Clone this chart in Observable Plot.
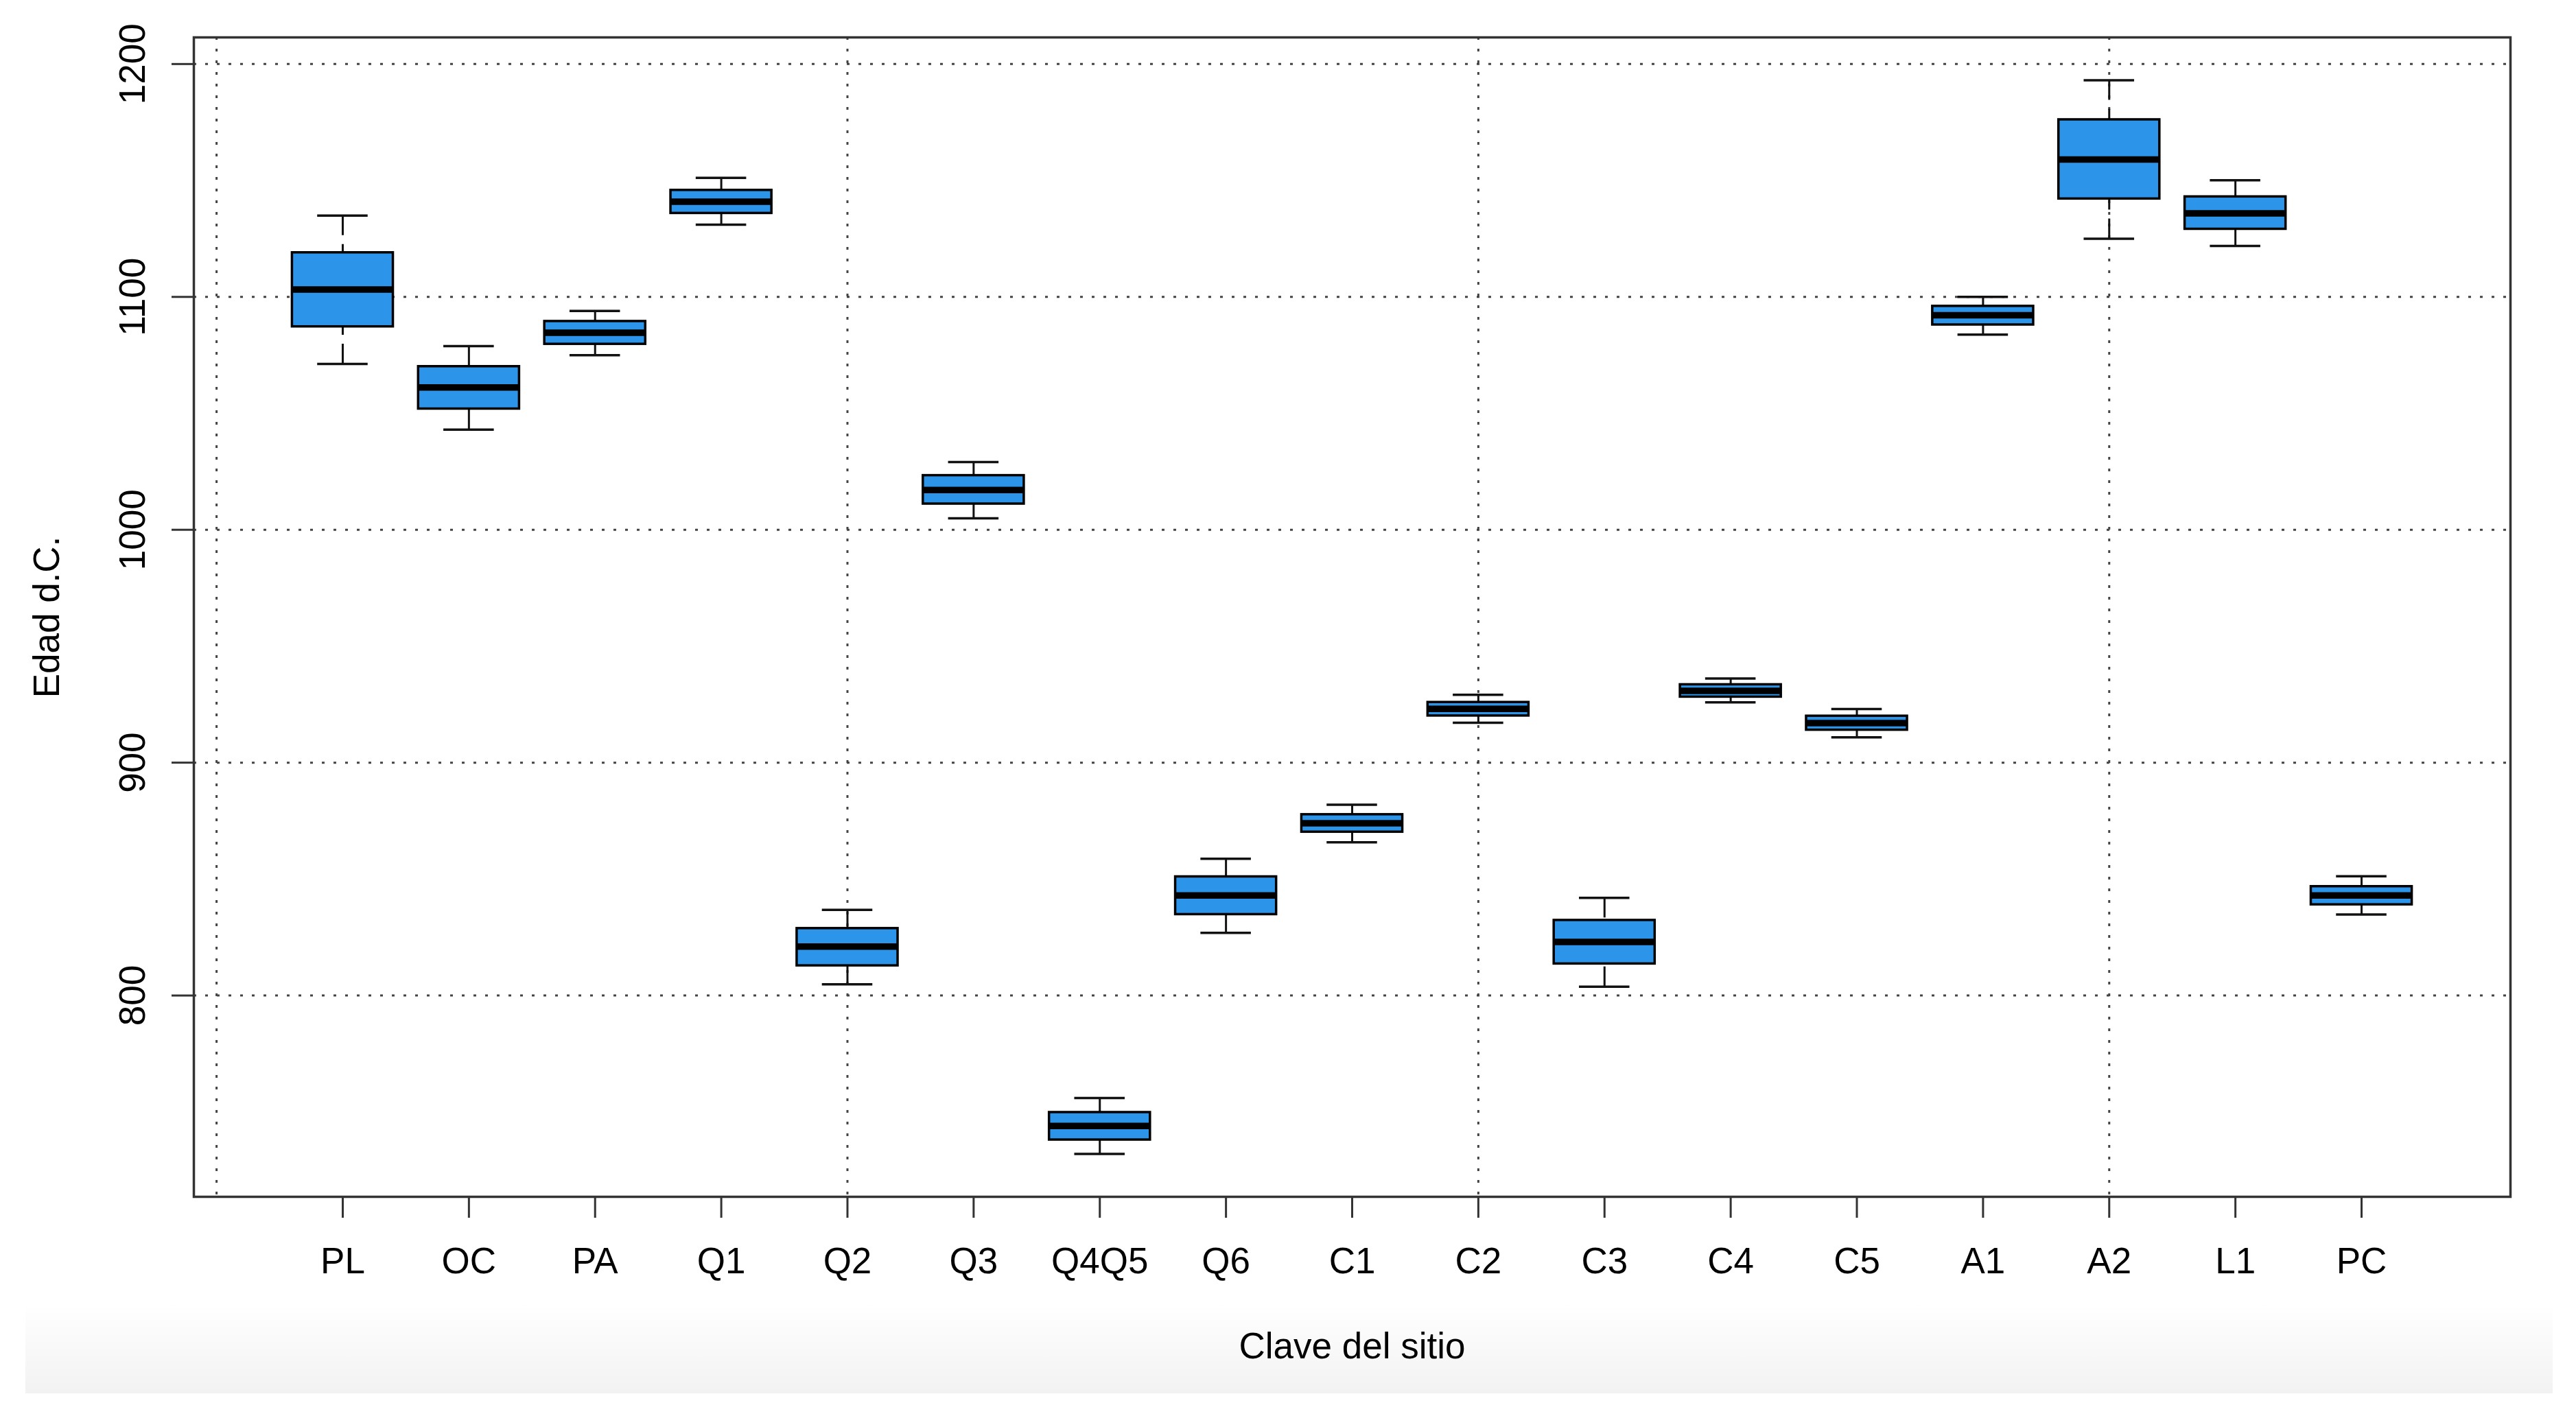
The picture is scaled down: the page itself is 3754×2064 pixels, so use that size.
<!DOCTYPE html>
<html>
<head>
<meta charset="utf-8">
<script src="https://cdn.jsdelivr.net/npm/d3@7"></script>
<script src="https://cdn.jsdelivr.net/npm/@observablehq/plot@0.6"></script>
<style>
  html, body { margin: 0; padding: 0; background: #ffffff; }
  #wrap { position: relative; width: 3754px; height: 2064px; overflow: hidden; }
  #band { position: absolute; left: 37px; right: 34px; top: 1900px; height: 131px;
          background: linear-gradient(to bottom, rgba(242,242,242,0) 0%, #f2f2f2 100%); z-index: 0; }
  #chart { position: absolute; left: 0; top: 0; z-index: 1; }
</style>
</head>
<body>
<div id="wrap"><div id="band"></div><div id="chart"></div></div>
<script>
// Site codes (x categories)
const sites = ["PL","OC","PA","Q1","Q2","Q3","Q4Q5","Q6","C1","C2","C3","C4","C5","A1","A2","L1","PC"];
// Box statistics (years d.C.)
const whiskerLow  = [1071.2, 1043.0, 1075.0, 1131.0, 804.8, 1004.9, 732.0, 826.9, 865.8, 917.1, 803.8, 925.9, 910.9, 1083.8, 1125.0, 1121.9, 834.8];
const q1          = [1087.2, 1051.9, 1079.7, 1135.9, 812.8, 1011.1, 738.0, 834.8, 870.2, 920.1, 813.6, 928.2, 914.0, 1088.0, 1142.1, 1129.1, 839.0];
const median      = [1103.2, 1061.1, 1084.6, 1140.9, 821.0, 1017.1, 744.0, 843.0, 874.0, 923.1, 823.0, 930.8, 917.0, 1092.1, 1159.0, 1135.9, 843.0];
const q3          = [1119.0, 1070.1, 1089.5, 1145.8, 828.8, 1023.3, 749.8, 851.0, 877.7, 925.9, 832.3, 933.5, 920.0, 1096.0, 1176.1, 1143.0, 846.8];
const whiskerHigh = [1134.9, 1078.9, 1094.0, 1151.1, 836.8, 1029.1, 756.0, 858.7, 881.9, 929.1, 841.9, 936.1, 923.0, 1100.0, 1193.0, 1150.1, 851.2];
// Axis ticks
const yTicks = [800, 900, 1000, 1100, 1200];
const xGrid = [0, 5, 10, 15];
const yLabel = "Edad d.C.";
const xLabel = "Clave del sitio";

const boxes = sites.map((s, i) => ({
  site: s, pos: i + 1,
  lo: whiskerLow[i], q1: q1[i], med: median[i], q3: q3[i], hi: whiskerHigh[i]
}));

const n = sites.length;
const yMin = d3.min(whiskerLow), yMax = d3.max(whiskerHigh);
const yPad = 0.04 * (yMax - yMin);
const xPad = 0.04 * n;

const fontFamily = "'Liberation Sans', Arial, Helvetica, sans-serif";
const fs = 53;
const boxFill = "#2c95e9";
const halfBox = 0.4, halfCap = 0.2;

const chart = Plot.plot({
  width: 3754,
  height: 2064,
  marginLeft: 282,
  marginTop: 54,
  marginRight: 96,
  marginBottom: 320,
  style: { fontFamily, fontSize: fs + "px", background: "transparent", color: "#000" },
  x: { domain: [0.5 - xPad, n + 0.5 + xPad], label: null },
  y: { domain: [yMin - yPad, yMax + yPad], label: null },
  marks: [
    Plot.gridY(yTicks, { stroke: "#444", strokeOpacity: 1, strokeWidth: 3, strokeDasharray: "4,13" }),
    Plot.gridX(xGrid, { stroke: "#444", strokeOpacity: 1, strokeWidth: 3, strokeDasharray: "4,13" }),
    // whiskers (dashed, drawn from the whisker end toward the box)
    Plot.ruleX(boxes, { x: "pos", y1: "lo", y2: "q1", stroke: "#111", strokeWidth: 3, strokeDasharray: "29,13" }),
    Plot.ruleX(boxes, { x: "pos", y1: "hi", y2: "q3", stroke: "#111", strokeWidth: 3, strokeDasharray: "29,13" }),
    // staples
    Plot.ruleY(boxes, { y: "lo", x1: d => d.pos - halfCap, x2: d => d.pos + halfCap, stroke: "#111", strokeWidth: 3.5 }),
    Plot.ruleY(boxes, { y: "hi", x1: d => d.pos - halfCap, x2: d => d.pos + halfCap, stroke: "#111", strokeWidth: 3.5 }),
    // boxes
    Plot.rect(boxes, { x1: d => d.pos - halfBox, x2: d => d.pos + halfBox, y1: "q1", y2: "q3",
                       fill: boxFill, stroke: "#000", strokeWidth: 3.5 }),
    // medians
    Plot.ruleY(boxes, { y: "med", x1: d => d.pos - halfBox, x2: d => d.pos + halfBox, stroke: "#000", strokeWidth: 9.5 }),
    Plot.frame({ stroke: "#333", strokeWidth: 3.5 }),
    Plot.axisY(yTicks, { tickSize: 32, tickPadding: 40, tickRotate: -90, fontSize: fs, stroke: "#333", strokeWidth: 3,
                 tickFormat: d => String(d), label: null }),
    Plot.axisX(boxes.map(d => d.pos), { tickSize: 31, tickPadding: 43, fontSize: fs, stroke: "#333", strokeWidth: 3,
                 tickFormat: p => sites[p - 1], label: null }),
    Plot.text([yLabel], { frameAnchor: "left", rotate: -90, dx: -197, textAnchor: "middle", lineAnchor: "bottom", fontSize: fs, fill: "#000" }),
    Plot.text([xLabel], { frameAnchor: "bottom", dy: 235, textAnchor: "middle", lineAnchor: "bottom", fontSize: fs, fill: "#000" })
  ]
});
document.getElementById("chart").appendChild(chart);
</script>
</body>
</html>
